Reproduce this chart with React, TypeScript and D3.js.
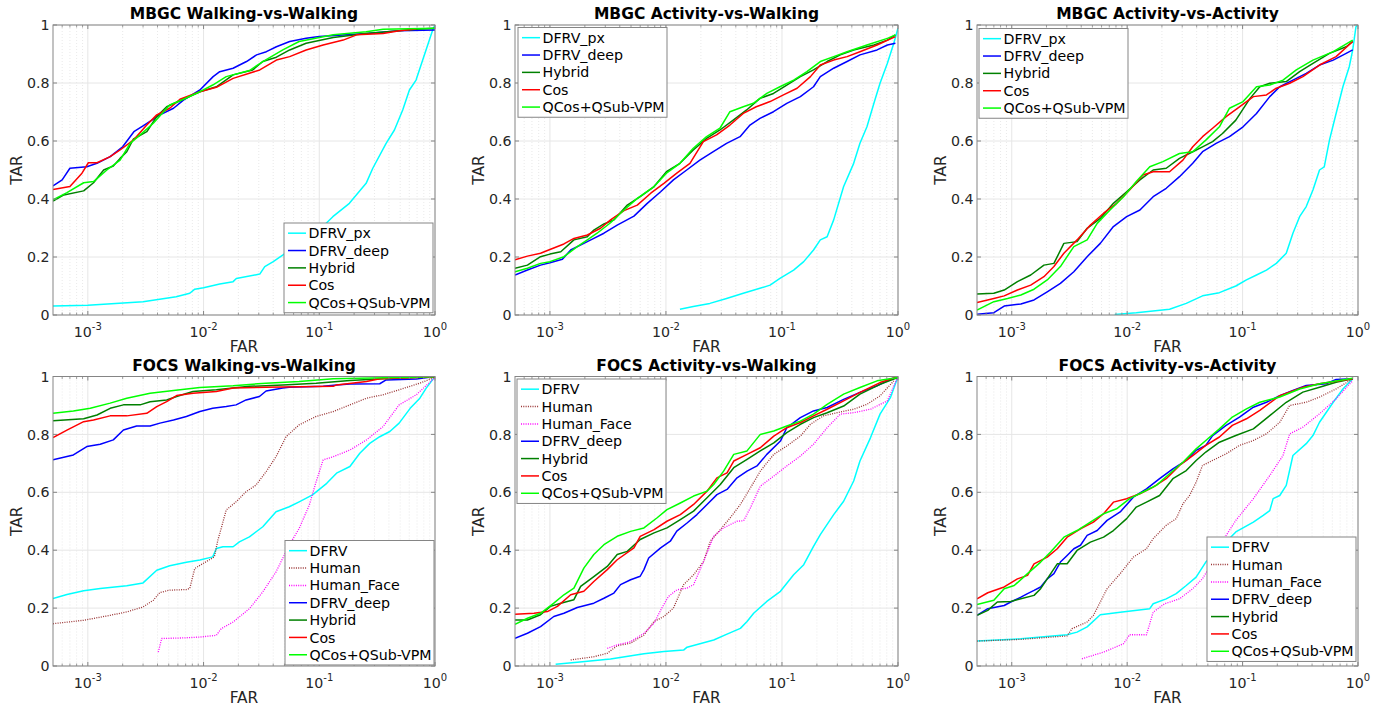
import React from 'react';
import * as d3 from 'd3';

type Pt = [number, number];

// ---------- MBGC Walking-vs-Walking ----------
const m1Px: Pt[] = [[0.0005,0.031],[0.001,0.034],[0.003,0.046],[0.0058,0.063],[0.0076,0.075],[0.0084,0.089],[0.01,0.094],[0.0138,0.107],[0.018,0.115],[0.0192,0.126],[0.0306,0.141],[0.0338,0.167],[0.04,0.184],[0.0486,0.207],[0.077,0.264],[0.1,0.293],[0.131,0.339],[0.182,0.385],[0.254,0.454],[0.29,0.506],[0.378,0.592],[0.446,0.638],[0.526,0.707],[0.601,0.776],[0.686,0.81],[0.783,0.879],[0.894,0.948],[0.955,0.983],[1,1]];
const m1Deep: Pt[] = [[0.0005,0.445],[0.0006,0.466],[0.0007,0.506],[0.00098,0.511],[0.0012,0.523],[0.00156,0.546],[0.002,0.58],[0.0025,0.632],[0.003,0.652],[0.0042,0.69],[0.0055,0.713],[0.0067,0.741],[0.0093,0.776],[0.0121,0.822],[0.0138,0.839],[0.018,0.851],[0.0235,0.874],[0.0287,0.897],[0.0349,0.908],[0.0426,0.925],[0.0555,0.943],[0.077,0.954],[0.1,0.96],[0.254,0.971],[0.493,0.98],[1,0.983]];
const m1Hyb: Pt[] = [[0.0005,0.393],[0.00062,0.414],[0.00092,0.428],[0.00112,0.456],[0.00137,0.5],[0.00166,0.514],[0.0019,0.54],[0.00217,0.563],[0.00247,0.606],[0.00323,0.632],[0.00394,0.684],[0.0048,0.718],[0.0067,0.744],[0.0093,0.77],[0.0129,0.787],[0.018,0.828],[0.0266,0.845],[0.0325,0.874],[0.0426,0.889],[0.0555,0.914],[0.077,0.937],[0.132,0.957],[0.254,0.971],[0.69,0.985],[1,0.989]];
const m1Cos: Pt[] = [[0.0005,0.433],[0.0007,0.443],[0.00089,0.489],[0.00101,0.525],[0.0012,0.525],[0.00156,0.546],[0.0019,0.569],[0.00247,0.603],[0.00323,0.655],[0.00394,0.69],[0.0051,0.713],[0.00625,0.744],[0.0093,0.77],[0.0129,0.785],[0.018,0.816],[0.0306,0.845],[0.0426,0.879],[0.0555,0.891],[0.077,0.914],[0.108,0.931],[0.161,0.948],[0.21,0.966],[0.356,0.971],[0.493,0.98],[0.69,0.986]];
const m1Q: Pt[] = [[0.0005,0.397],[0.00066,0.422],[0.00092,0.456],[0.00112,0.46],[0.00146,0.5],[0.0019,0.534],[0.00232,0.592],[0.00283,0.621],[0.00368,0.661],[0.0051,0.724],[0.0067,0.744],[0.0093,0.77],[0.012,0.793],[0.0157,0.822],[0.0249,0.843],[0.0325,0.874],[0.0484,0.914],[0.067,0.943],[0.132,0.966],[0.254,0.977],[0.356,0.985],[1,0.989]];

// ---------- MBGC Activity-vs-Walking ----------
const m2Px: Pt[] = [[0.0132,0.02],[0.0172,0.029],[0.0239,0.04],[0.0333,0.057],[0.0464,0.075],[0.0646,0.092],[0.079,0.103],[0.096,0.126],[0.126,0.155],[0.154,0.184],[0.187,0.224],[0.214,0.259],[0.245,0.27],[0.279,0.328],[0.34,0.443],[0.415,0.523],[0.47,0.592],[0.54,0.649],[0.62,0.73],[0.7,0.799],[0.81,0.868],[0.92,0.937],[1,0.989]];
const m2Deep: Pt[] = [[0.0005,0.138],[0.00064,0.155],[0.00083,0.172],[0.001,0.18],[0.00128,0.192],[0.00151,0.224],[0.00196,0.247],[0.00239,0.264],[0.00292,0.282],[0.0038,0.31],[0.0053,0.341],[0.0069,0.385],[0.009,0.425],[0.0116,0.466],[0.0151,0.5],[0.0196,0.534],[0.0256,0.563],[0.0333,0.592],[0.0435,0.615],[0.053,0.655],[0.0646,0.678],[0.0845,0.701],[0.11,0.73],[0.144,0.753],[0.187,0.787],[0.214,0.822],[0.279,0.851],[0.364,0.874],[0.47,0.897],[0.66,0.914],[0.81,0.931],[0.95,0.937]];
const m2Hyb: Pt[] = [[0.0005,0.161],[0.00064,0.172],[0.00083,0.201],[0.001,0.21],[0.00124,0.218],[0.00161,0.259],[0.0021,0.27],[0.00239,0.293],[0.00292,0.314],[0.00356,0.328],[0.00464,0.379],[0.006,0.408],[0.0079,0.443],[0.0101,0.494],[0.0132,0.523],[0.0172,0.569],[0.0224,0.609],[0.0292,0.638],[0.038,0.672],[0.0496,0.707],[0.0646,0.747],[0.0845,0.764],[0.11,0.793],[0.144,0.822],[0.187,0.845],[0.245,0.874],[0.318,0.897],[0.415,0.914],[0.62,0.931],[0.81,0.948],[0.95,0.966]];
const m2Cos: Pt[] = [[0.0005,0.19],[0.00064,0.203],[0.00083,0.213],[0.001,0.226],[0.00132,0.245],[0.00161,0.264],[0.0021,0.276],[0.00273,0.299],[0.00333,0.328],[0.00435,0.36],[0.00566,0.379],[0.0074,0.42],[0.0096,0.454],[0.0124,0.489],[0.0161,0.523],[0.021,0.598],[0.0273,0.621],[0.0356,0.655],[0.0464,0.695],[0.06,0.718],[0.079,0.736],[0.103,0.759],[0.135,0.782],[0.176,0.822],[0.214,0.862],[0.279,0.879],[0.364,0.891],[0.47,0.908],[0.66,0.931],[0.95,0.96]];
const m2Q: Pt[] = [[0.0005,0.149],[0.00064,0.161],[0.00083,0.178],[0.001,0.184],[0.00132,0.201],[0.00172,0.236],[0.0021,0.259],[0.00255,0.282],[0.00333,0.318],[0.00435,0.362],[0.00566,0.402],[0.0079,0.443],[0.0101,0.489],[0.0132,0.523],[0.0172,0.575],[0.0224,0.615],[0.0292,0.644],[0.0356,0.701],[0.0464,0.718],[0.0566,0.73],[0.074,0.764],[0.096,0.787],[0.126,0.81],[0.164,0.839],[0.214,0.874],[0.279,0.891],[0.364,0.908],[0.54,0.931],[0.81,0.954],[0.95,0.966]];

// ---------- MBGC Activity-vs-Activity ----------
const m3Px: Pt[] = [[0.0078,0.002],[0.012,0.008],[0.0233,0.02],[0.0325,0.04],[0.045,0.066],[0.063,0.077],[0.0874,0.1],[0.108,0.121],[0.132,0.138],[0.161,0.155],[0.196,0.178],[0.239,0.213],[0.273,0.282],[0.312,0.339],[0.356,0.374],[0.407,0.431],[0.464,0.5],[0.51,0.511],[0.566,0.603],[0.646,0.695],[0.74,0.787],[0.84,0.856],[0.9,0.914],[0.96,0.994],[1,1]];
const m3Deep: Pt[] = [[0.0005,0.003],[0.0007,0.008],[0.00086,0.031],[0.0012,0.038],[0.00156,0.052],[0.00203,0.08],[0.00264,0.109],[0.00345,0.149],[0.0045,0.201],[0.00585,0.247],[0.0076,0.305],[0.0099,0.339],[0.0129,0.362],[0.0168,0.408],[0.0218,0.437],[0.0284,0.477],[0.037,0.523],[0.045,0.563],[0.059,0.592],[0.077,0.615],[0.101,0.649],[0.132,0.695],[0.172,0.753],[0.21,0.787],[0.273,0.81],[0.356,0.833],[0.464,0.862],[0.61,0.879],[0.79,0.902],[0.9,0.914]];
const m3Hyb: Pt[] = [[0.0005,0.072],[0.0007,0.075],[0.00086,0.086],[0.00112,0.115],[0.00146,0.138],[0.0019,0.172],[0.00232,0.178],[0.00283,0.247],[0.00368,0.253],[0.0045,0.299],[0.00585,0.333],[0.0076,0.385],[0.0099,0.425],[0.0129,0.466],[0.0168,0.5],[0.0218,0.506],[0.0284,0.54],[0.037,0.563],[0.045,0.58],[0.055,0.598],[0.067,0.626],[0.0874,0.672],[0.116,0.747],[0.141,0.787],[0.172,0.799],[0.239,0.805],[0.312,0.839],[0.407,0.868],[0.566,0.902],[0.79,0.925],[0.9,0.943]];
const m3Cos: Pt[] = [[0.0005,0.043],[0.0007,0.057],[0.00086,0.066],[0.00112,0.086],[0.00146,0.103],[0.0019,0.132],[0.00232,0.167],[0.00283,0.213],[0.00368,0.259],[0.0048,0.31],[0.00625,0.351],[0.0081,0.385],[0.0105,0.431],[0.0137,0.483],[0.0168,0.494],[0.0233,0.494],[0.0304,0.534],[0.037,0.58],[0.045,0.615],[0.055,0.644],[0.072,0.684],[0.094,0.718],[0.124,0.753],[0.161,0.759],[0.196,0.782],[0.256,0.799],[0.333,0.822],[0.464,0.862],[0.646,0.891],[0.9,0.943]];
const m3Q: Pt[] = [[0.0005,0.017],[0.0007,0.046],[0.00092,0.057],[0.0012,0.069],[0.00156,0.089],[0.00203,0.121],[0.00264,0.167],[0.00345,0.236],[0.0045,0.259],[0.0055,0.316],[0.0071,0.362],[0.0093,0.408],[0.012,0.46],[0.0157,0.511],[0.0204,0.529],[0.0284,0.557],[0.037,0.563],[0.048,0.603],[0.063,0.649],[0.077,0.713],[0.101,0.736],[0.132,0.787],[0.172,0.793],[0.224,0.81],[0.292,0.845],[0.407,0.879],[0.61,0.908],[0.9,0.948]];

// ---------- FOCS Walking-vs-Walking ----------
const f1Dfrv: Pt[] = [[0.0005,0.233],[0.00066,0.247],[0.00092,0.26],[0.00128,0.268],[0.00217,0.277],[0.003,0.287],[0.00394,0.331],[0.0051,0.346],[0.0071,0.358],[0.0093,0.366],[0.012,0.377],[0.0129,0.406],[0.0147,0.412],[0.018,0.412],[0.0204,0.429],[0.0249,0.446],[0.0325,0.481],[0.0423,0.533],[0.055,0.55],[0.067,0.567],[0.0874,0.591],[0.116,0.631],[0.141,0.666],[0.184,0.689],[0.224,0.735],[0.273,0.769],[0.333,0.792],[0.407,0.81],[0.49,0.839],[0.61,0.89],[0.74,0.925],[0.84,0.96],[1,1]];
const f1Human: Pt[] = [[0.0005,0.146],[0.00092,0.158],[0.00156,0.175],[0.00217,0.187],[0.003,0.204],[0.00368,0.227],[0.0042,0.254],[0.0051,0.262],[0.0071,0.264],[0.0076,0.268],[0.0084,0.337],[0.0099,0.354],[0.0124,0.377],[0.0133,0.435],[0.0142,0.475],[0.0157,0.539],[0.0191,0.567],[0.0233,0.602],[0.0284,0.625],[0.0347,0.671],[0.0423,0.723],[0.0516,0.792],[0.067,0.833],[0.094,0.862],[0.132,0.879],[0.184,0.902],[0.256,0.925],[0.356,0.937],[0.49,0.954],[0.74,0.977],[1,0.997]];
const f1Face: Pt[] = [[0.00406,0.048],[0.00435,0.095],[0.0067,0.097],[0.0093,0.1],[0.0129,0.106],[0.0142,0.129],[0.018,0.152],[0.0249,0.198],[0.0325,0.256],[0.0423,0.325],[0.055,0.418],[0.067,0.475],[0.082,0.556],[0.094,0.637],[0.108,0.712],[0.132,0.723],[0.184,0.746],[0.256,0.781],[0.356,0.827],[0.49,0.902],[0.69,0.937],[1,0.997]];
const f1Deep: Pt[] = [[0.0005,0.712],[0.00075,0.729],[0.00098,0.758],[0.00128,0.766],[0.00166,0.781],[0.00203,0.815],[0.00264,0.829],[0.00345,0.829],[0.0042,0.839],[0.0055,0.85],[0.0071,0.862],[0.0093,0.879],[0.012,0.89],[0.0157,0.896],[0.0191,0.902],[0.0233,0.919],[0.0304,0.931],[0.0347,0.95],[0.0484,0.96],[0.055,0.963],[0.108,0.966],[0.141,0.971],[0.184,0.974],[0.333,0.975],[0.378,0.988],[0.69,0.991],[1,1]];
const f1Hyb: Pt[] = [[0.0005,0.847],[0.00092,0.854],[0.0012,0.867],[0.00156,0.89],[0.00203,0.902],[0.00283,0.902],[0.00345,0.913],[0.0048,0.919],[0.00585,0.931],[0.0081,0.948],[0.0129,0.954],[0.0249,0.966],[0.0484,0.971],[0.094,0.977],[0.184,0.986],[0.356,0.992],[1,0.999]];
const f1Cos: Pt[] = [[0.0005,0.789],[0.00066,0.815],[0.00092,0.844],[0.00112,0.85],[0.00156,0.864],[0.00217,0.864],[0.00323,0.873],[0.00394,0.896],[0.0048,0.913],[0.00585,0.934],[0.0081,0.942],[0.0129,0.948],[0.018,0.96],[0.0347,0.963],[0.132,0.966],[0.141,0.971],[0.256,0.983],[0.333,0.992],[1,0.999]];
const f1Q: Pt[] = [[0.0005,0.873],[0.00075,0.881],[0.00105,0.89],[0.00156,0.908],[0.00217,0.925],[0.00345,0.942],[0.0055,0.952],[0.0093,0.962],[0.018,0.968],[0.0347,0.977],[0.067,0.983],[0.132,0.992],[1,0.999]];

// ---------- FOCS Activity-vs-Walking ----------
const f2Dfrv: Pt[] = [[0.00112,0.006],[0.00172,0.013],[0.00333,0.024],[0.00646,0.042],[0.0096,0.05],[0.0142,0.055],[0.0152,0.065],[0.0258,0.09],[0.0336,0.11],[0.0438,0.13],[0.05,0.154],[0.057,0.182],[0.074,0.223],[0.097,0.258],[0.126,0.315],[0.154,0.35],[0.187,0.413],[0.214,0.454],[0.279,0.523],[0.34,0.569],[0.415,0.639],[0.47,0.708],[0.58,0.789],[0.7,0.87],[0.86,0.927],[1,1]];
const f2Human: Pt[] = [[0.00151,0.021],[0.00239,0.032],[0.00312,0.044],[0.0038,0.07],[0.00496,0.079],[0.00646,0.107],[0.0079,0.154],[0.0096,0.171],[0.0116,0.2],[0.0142,0.281],[0.0173,0.315],[0.0211,0.361],[0.0241,0.431],[0.0294,0.471],[0.0358,0.512],[0.0438,0.558],[0.0534,0.615],[0.065,0.673],[0.085,0.731],[0.11,0.76],[0.144,0.794],[0.176,0.835],[0.228,0.864],[0.298,0.875],[0.415,0.887],[0.54,0.904],[0.7,0.933],[0.92,0.985]];
const f2Face: Pt[] = [[0.00312,0.061],[0.0038,0.073],[0.00496,0.084],[0.00646,0.113],[0.0079,0.148],[0.0092,0.2],[0.0105,0.24],[0.0124,0.263],[0.0152,0.269],[0.0173,0.281],[0.0211,0.361],[0.0258,0.448],[0.0314,0.477],[0.041,0.5],[0.0467,0.502],[0.0534,0.546],[0.065,0.621],[0.085,0.656],[0.11,0.691],[0.144,0.725],[0.187,0.766],[0.245,0.823],[0.318,0.87],[0.415,0.875],[0.58,0.887],[0.81,0.916],[1,1]];
const f2Deep: Pt[] = [[0.0005,0.096],[0.00064,0.113],[0.00083,0.136],[0.00108,0.171],[0.00132,0.182],[0.00172,0.202],[0.00239,0.217],[0.00292,0.234],[0.00356,0.252],[0.00406,0.281],[0.00496,0.298],[0.006,0.31],[0.00646,0.333],[0.0071,0.373],[0.009,0.408],[0.0109,0.431],[0.0124,0.466],[0.0152,0.494],[0.0185,0.523],[0.0226,0.558],[0.0275,0.592],[0.0336,0.61],[0.041,0.65],[0.05,0.673],[0.0609,0.691],[0.074,0.731],[0.097,0.777],[0.11,0.823],[0.144,0.858],[0.187,0.881],[0.245,0.893],[0.34,0.921],[0.47,0.945],[0.66,0.968],[0.81,0.985],[1,1]];
const f2Hyb: Pt[] = [[0.0005,0.159],[0.00064,0.159],[0.00083,0.177],[0.00101,0.206],[0.00124,0.217],[0.00161,0.229],[0.00184,0.275],[0.00239,0.309],[0.00312,0.344],[0.0038,0.385],[0.00464,0.396],[0.006,0.437],[0.0079,0.46],[0.0102,0.477],[0.0133,0.506],[0.0173,0.535],[0.0226,0.581],[0.0294,0.627],[0.0384,0.685],[0.05,0.714],[0.065,0.743],[0.085,0.771],[0.11,0.806],[0.144,0.835],[0.187,0.858],[0.245,0.875],[0.34,0.898],[0.47,0.939],[0.7,0.973],[1,0.997]];
const f2Cos: Pt[] = [[0.0005,0.179],[0.00073,0.182],[0.00095,0.188],[0.00116,0.206],[0.00151,0.246],[0.00196,0.258],[0.00239,0.292],[0.00312,0.333],[0.0038,0.367],[0.0053,0.408],[0.006,0.448],[0.0079,0.471],[0.0102,0.5],[0.0133,0.523],[0.0173,0.558],[0.0226,0.604],[0.0275,0.65],[0.0336,0.667],[0.0384,0.708],[0.05,0.731],[0.065,0.754],[0.085,0.794],[0.11,0.823],[0.144,0.841],[0.187,0.864],[0.245,0.887],[0.34,0.916],[0.47,0.945],[0.7,0.979],[1,1]];
const f2Q: Pt[] = [[0.0005,0.144],[0.00064,0.165],[0.00083,0.182],[0.00108,0.217],[0.00132,0.246],[0.00161,0.269],[0.00196,0.338],[0.00239,0.385],[0.00292,0.419],[0.0038,0.448],[0.00496,0.465],[0.00646,0.477],[0.0084,0.512],[0.0102,0.54],[0.0133,0.563],[0.0173,0.587],[0.0226,0.604],[0.0258,0.627],[0.0314,0.673],[0.0384,0.731],[0.05,0.743],[0.065,0.8],[0.085,0.812],[0.11,0.829],[0.144,0.846],[0.187,0.87],[0.245,0.904],[0.34,0.939],[0.47,0.962],[0.66,0.985],[1,0.997]];

// ---------- FOCS Activity-vs-Activity ----------
const f3Dfrv: Pt[] = [[0.0005,0.086],[0.0012,0.094],[0.00302,0.108],[0.00368,0.117],[0.0045,0.135],[0.00585,0.177],[0.0087,0.186],[0.0157,0.198],[0.0168,0.215],[0.0218,0.232],[0.0266,0.25],[0.0325,0.278],[0.0396,0.307],[0.048,0.359],[0.063,0.405],[0.0874,0.463],[0.124,0.497],[0.151,0.52],[0.172,0.537],[0.184,0.578],[0.21,0.589],[0.239,0.624],[0.273,0.727],[0.356,0.768],[0.407,0.796],[0.464,0.842],[0.61,0.911],[0.74,0.957],[0.9,0.992]];
const f3Human: Pt[] = [[0.0005,0.086],[0.0012,0.092],[0.00302,0.104],[0.00333,0.129],[0.0045,0.152],[0.0051,0.175],[0.00585,0.221],[0.0067,0.267],[0.0087,0.319],[0.0113,0.376],[0.0147,0.405],[0.0168,0.44],[0.0218,0.486],[0.0266,0.509],[0.0304,0.56],[0.0347,0.589],[0.0396,0.635],[0.045,0.693],[0.055,0.71],[0.072,0.733],[0.094,0.762],[0.124,0.779],[0.161,0.802],[0.21,0.842],[0.256,0.9],[0.356,0.911],[0.464,0.929],[0.646,0.957],[0.9,0.992]];
const f3Face: Pt[] = [[0.00406,0.025],[0.00625,0.048],[0.0093,0.077],[0.0105,0.108],[0.0147,0.108],[0.0168,0.186],[0.0211,0.215],[0.0284,0.232],[0.037,0.267],[0.045,0.302],[0.055,0.359],[0.072,0.451],[0.0874,0.503],[0.124,0.578],[0.172,0.658],[0.224,0.727],[0.256,0.802],[0.333,0.825],[0.464,0.871],[0.646,0.923],[0.9,0.986]];
const f3Deep: Pt[] = [[0.0005,0.175],[0.00062,0.198],[0.00086,0.209],[0.00098,0.221],[0.0012,0.238],[0.00137,0.25],[0.00156,0.261],[0.00178,0.273],[0.00203,0.301],[0.00232,0.319],[0.00264,0.359],[0.00302,0.382],[0.00345,0.405],[0.00394,0.417],[0.0045,0.451],[0.0055,0.468],[0.0067,0.503],[0.0087,0.532],[0.0113,0.583],[0.0147,0.612],[0.0191,0.647],[0.0249,0.681],[0.0325,0.71],[0.0396,0.745],[0.048,0.762],[0.055,0.796],[0.072,0.831],[0.094,0.86],[0.124,0.894],[0.161,0.911],[0.21,0.934],[0.273,0.952],[0.356,0.969],[0.53,0.975],[0.646,0.99],[0.9,0.992]];
const f3Hyb: Pt[] = [[0.0005,0.175],[0.00062,0.192],[0.00075,0.221],[0.00098,0.223],[0.0012,0.232],[0.00156,0.244],[0.00178,0.267],[0.00203,0.301],[0.00248,0.353],[0.00302,0.353],[0.00368,0.399],[0.0048,0.428],[0.00625,0.445],[0.0076,0.468],[0.0099,0.509],[0.012,0.549],[0.0147,0.566],[0.0191,0.589],[0.0249,0.647],[0.0325,0.675],[0.0396,0.71],[0.048,0.739],[0.063,0.773],[0.0874,0.796],[0.124,0.819],[0.172,0.865],[0.239,0.911],[0.333,0.946],[0.464,0.963],[0.646,0.98],[0.9,0.992]];
const f3Cos: Pt[] = [[0.0005,0.232],[0.00062,0.253],[0.00086,0.273],[0.00112,0.301],[0.00137,0.313],[0.00156,0.353],[0.00203,0.376],[0.00248,0.405],[0.00302,0.445],[0.00394,0.474],[0.0051,0.497],[0.00625,0.526],[0.0076,0.566],[0.0099,0.578],[0.0129,0.595],[0.0168,0.618],[0.0218,0.647],[0.0284,0.693],[0.037,0.727],[0.048,0.762],[0.063,0.791],[0.0815,0.831],[0.108,0.854],[0.141,0.883],[0.21,0.934],[0.333,0.963],[0.464,0.975],[0.9,0.992]];
const f3Q: Pt[] = [[0.0005,0.212],[0.0007,0.227],[0.00086,0.267],[0.00105,0.278],[0.00137,0.319],[0.00178,0.359],[0.00217,0.394],[0.00283,0.445],[0.00368,0.468],[0.0048,0.497],[0.00625,0.526],[0.0081,0.543],[0.0105,0.578],[0.0137,0.601],[0.0179,0.624],[0.0233,0.664],[0.0304,0.704],[0.0396,0.75],[0.048,0.779],[0.063,0.819],[0.0815,0.86],[0.108,0.888],[0.141,0.911],[0.21,0.929],[0.312,0.957],[0.464,0.975],[0.9,0.994]];

// ---------- labels / ticks ----------
const PANEL_TITLES = [
  'MBGC Walking-vs-Walking', 'MBGC Activity-vs-Walking', 'MBGC Activity-vs-Activity',
  'FOCS Walking-vs-Walking', 'FOCS Activity-vs-Walking', 'FOCS Activity-vs-Activity',
];
const MBGC_NAMES = ['DFRV_px', 'DFRV_deep', 'Hybrid', 'Cos', 'QCos+QSub-VPM'];
const FOCS_NAMES = ['DFRV', 'Human', 'Human_Face', 'DFRV_deep', 'Hybrid', 'Cos', 'QCos+QSub-VPM'];
const X_DECADES = [-3, -2, -1, 0];
const Y_TICKS = [0, 0.2, 0.4, 0.6, 0.8, 1];
const X_LABEL = 'FAR';
const Y_LABEL = 'TAR';

const MBGC_STYLE = [
  { color: '#00FFFF' }, { color: '#0000FF' }, { color: '#008000' }, { color: '#FF0000' }, { color: '#00FF00' },
];
const FOCS_STYLE = [
  { color: '#00FFFF' }, { color: '#993333', dash: '1,1.3' }, { color: '#FF00FF', dash: '1,1.3' },
  { color: '#0000FF' }, { color: '#008000' }, { color: '#FF0000' }, { color: '#00FF00' },
];

const PANEL_DATA: Pt[][][] = [
  [m1Px, m1Deep, m1Hyb, m1Cos, m1Q],
  [m2Px, m2Deep, m2Hyb, m2Cos, m2Q],
  [m3Px, m3Deep, m3Hyb, m3Cos, m3Q],
  [f1Dfrv, f1Human, f1Face, f1Deep, f1Hyb, f1Cos, f1Q],
  [f2Dfrv, f2Human, f2Face, f2Deep, f2Hyb, f2Cos, f2Q],
  [f3Dfrv, f3Human, f3Face, f3Deep, f3Hyb, f3Cos, f3Q],
];

// layout
const COLS: [number, number][] = [[53, 435], [515, 898], [977, 1358]];
const ROWS: [number, number][] = [[25, 315], [376.5, 666]];
const LEGEND_POS: [number, number][] = [[284, 223], [518, 27.5], [979, 28.5], [285, 540.5], [517, 379], [1207, 537]];

const FONT = 'DejaVu Sans, Verdana, sans-serif';
const TXT = '#262626';
const AX = '#858585';

function Panel({ idx }: { idx: number }) {
  const [x0, x1] = COLS[idx % 3];
  const [y0, y1] = ROWS[Math.floor(idx / 3)];
  const x = d3.scaleLog().domain([5e-4, 1]).range([x0, x1]);
  const y = d3.scaleLinear().domain([0, 1]).range([y1, y0]);
  const isF = idx >= 3;
  const names = isF ? FOCS_NAMES : MBGC_NAMES;
  const styles: { color: string; dash?: string }[] = isF ? FOCS_STYLE : MBGC_STYLE;
  const data = PANEL_DATA[idx];
  const line = d3.line<Pt>().x(d => x(d[0])).y(d => y(d[1]));
  const minor: number[] = [];
  for (let e = -4; e < 0; e++) for (let k = 2; k <= 9; k++) {
    const v = k * Math.pow(10, e);
    if (v > 5e-4 && v < 1) minor.push(v);
  }
  const clipId = `clip${idx}`;
  const [lx, ly] = LEGEND_POS[idx];
  const rowH = 17.35;
  const lh = names.length * rowH + 3;
  const cx = (x0 + x1) / 2;
  const cy = (y0 + y1) / 2;
  return (
    <g>
      <defs>
        <clipPath id={clipId}><rect x={x0} y={y0} width={x1 - x0} height={y1 - y0} /></clipPath>
      </defs>
      <rect x={x0} y={y0} width={x1 - x0} height={y1 - y0} fill="#fff" />
      {minor.map(v => (
        <line key={'mg' + v} x1={x(v)} x2={x(v)} y1={y0} y2={y1} stroke="#e3e3e3" strokeWidth={0.8} strokeDasharray="1,2" />
      ))}
      {X_DECADES.map(e => (
        <line key={'gx' + e} x1={x(Math.pow(10, e))} x2={x(Math.pow(10, e))} y1={y0} y2={y1} stroke="#e6e6e6" strokeWidth={1} />
      ))}
      {Y_TICKS.map(t => (
        <line key={'gy' + t} x1={x0} x2={x1} y1={y(t)} y2={y(t)} stroke="#e6e6e6" strokeWidth={1} />
      ))}
      <g clipPath={`url(#${clipId})`}>
        {data.map((d, i) => (
          <path key={i} d={line(d) || ''} fill="none" stroke={styles[i].color} strokeWidth={styles[i].dash ? 1.3 : 1.5}
            strokeDasharray={styles[i].dash} strokeLinejoin="round" />
        ))}
      </g>
      <rect x={x0} y={y0} width={x1 - x0} height={y1 - y0} fill="none" stroke={AX} strokeWidth={1} />
      {minor.map(v => (
        <g key={'mt' + v}>
          <line x1={x(v)} x2={x(v)} y1={y1} y2={y1 - 2.5} stroke={AX} strokeWidth={0.8} />
          <line x1={x(v)} x2={x(v)} y1={y0} y2={y0 + 2.5} stroke={AX} strokeWidth={0.8} />
        </g>
      ))}
      {X_DECADES.map(e => (
        <g key={'xt' + e}>
          <line x1={x(Math.pow(10, e))} x2={x(Math.pow(10, e))} y1={y1} y2={y1 - 4} stroke={AX} />
          <line x1={x(Math.pow(10, e))} x2={x(Math.pow(10, e))} y1={y0} y2={y0 + 4} stroke={AX} />
          <text x={x(Math.pow(10, e))} y={y1 + 22} textAnchor="middle" fontFamily={FONT} fontSize={14.2} fill={TXT}>
            <tspan>10</tspan><tspan dy={-7} fontSize={10}>{String(e)}</tspan>
          </text>
        </g>
      ))}
      {Y_TICKS.map(t => (
        <g key={'yt' + t}>
          <line x1={x0} x2={x0 + 4} y1={y(t)} y2={y(t)} stroke={AX} />
          <line x1={x1} x2={x1 - 4} y1={y(t)} y2={y(t)} stroke={AX} />
          <text x={x0 - 3.5} y={y(t)} dy="0.36em" textAnchor="end" fontFamily={FONT} fontSize={14.2} fill={TXT}>{String(t)}</text>
        </g>
      ))}
      <text x={cx} y={y0 - 6} textAnchor="middle" fontFamily={FONT} fontWeight="bold" fontSize={15.5} fill="#000">{PANEL_TITLES[idx]}</text>
      <text x={cx} y={y1 + 37} textAnchor="middle" fontFamily={FONT} fontSize={15.4} fill={TXT}>{X_LABEL}</text>
      <text transform={`translate(${x0 - 37},${cy}) rotate(-90)`} dy="0.36em" textAnchor="middle" fontFamily={FONT} fontSize={15.4} fill={TXT}>{Y_LABEL}</text>
      <g>
        <rect x={lx} y={ly} width={149} height={lh} fill="#fff" stroke={AX} strokeWidth={1} />
        {names.map((n, i) => {
          const yy = ly + 1.5 + rowH * (i + 0.5);
          return (
            <g key={n}>
              <line x1={lx + 4} x2={lx + 22} y1={yy} y2={yy} stroke={styles[i].color} strokeWidth={1.5} strokeDasharray={styles[i].dash} />
              <text x={lx + 24.5} y={yy} dy="0.36em" fontFamily={FONT} fontSize={14.2} fill="#000">{n}</text>
            </g>
          );
        })}
      </g>
    </g>
  );
}

export default function App() {
  return (
    <svg width={1395} height={713} style={{ position: 'absolute', left: 0, top: 0, background: '#fff' }}>
      <rect x={0} y={0} width={1395} height={713} fill="#fff" />
      {[0, 1, 2, 3, 4, 5].map(i => <Panel key={i} idx={i} />)}
    </svg>
  );
}
